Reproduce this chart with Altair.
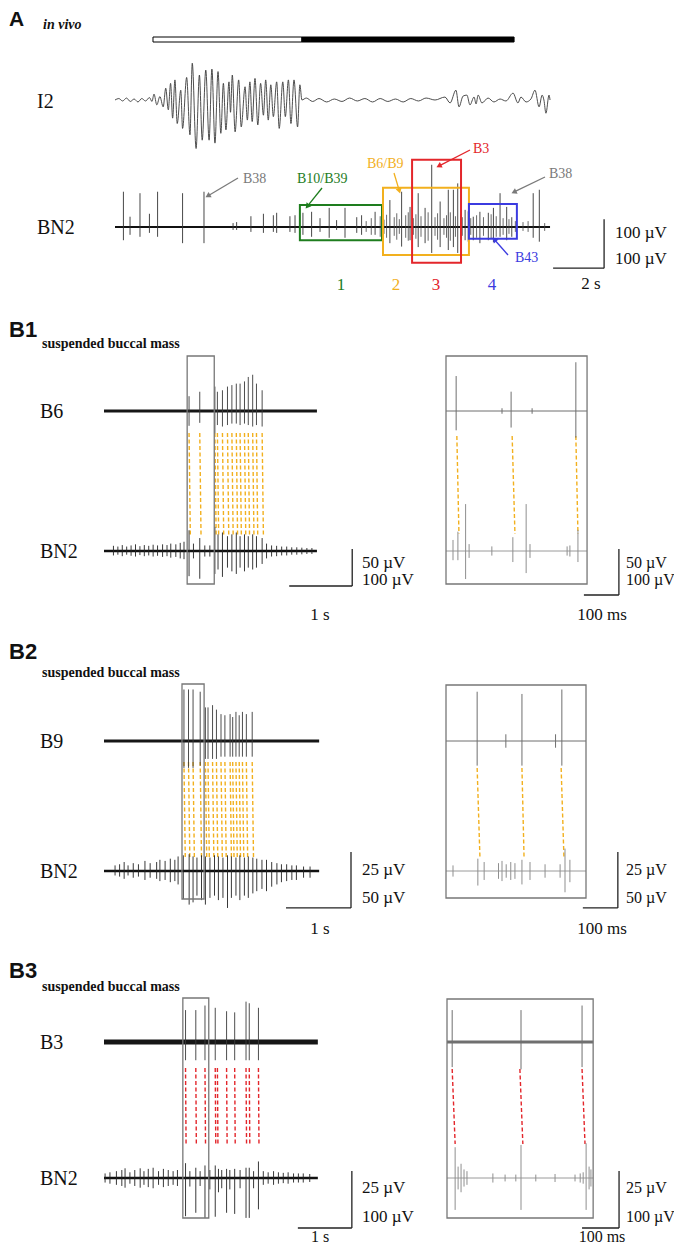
import math
import pandas as pd
import altair as alt

OX, OY = 8, 8          # page margin: chart origin on the page
W, H = 666, 1236

SERIF = "Liberation Serif"
SANS = "Liberation Sans"
ORANGE = "#F2B01E"
RED = "#E3262B"
GREEN = "#1E7D1E"
BLUE = "#3B3BE0"
GREY = "#7A7A7A"

# ------------------------------------------------------------------ data
# ---- A: in vivo
stim_t = [1.49, 7.33, 15.65]            # open bar (protraction) then filled bar (retraction), s
a_trace_end = 17.06                      # s

i2_t = [0.0, 0.15, 0.3, 0.45, 0.6, 0.75, 0.9, 1.05, 1.2, 1.35, 1.45,
        1.53, 1.64, 1.76, 1.89, 1.99, 2.09, 2.18, 2.26, 2.35, 2.44, 2.58, 2.65, 2.81, 2.94,
        3.03, 3.18, 3.31, 3.42, 3.56, 3.69, 3.80, 3.92, 4.04, 4.15, 4.25, 4.35, 4.47, 4.53,
        4.60, 4.71, 4.85, 4.95, 5.10, 5.19, 5.29, 5.38, 5.49, 5.60, 5.71, 5.82, 5.91, 6.01,
        6.11, 6.21, 6.34, 6.44, 6.58, 6.68, 6.80, 6.90, 7.02, 7.16, 7.25, 7.33,
        7.5, 7.75, 8.0, 8.3, 8.6, 8.9, 9.2, 9.5, 9.8, 10.1, 10.4, 10.7, 11.0, 11.3, 11.6,
        11.9, 12.2, 12.55, 12.94, 13.14, 13.37, 13.49, 13.65, 13.80, 13.92, 14.08, 14.16,
        14.24, 14.39, 14.63, 14.86, 15.10, 15.33, 15.61, 15.80, 15.92, 16.12, 16.31, 16.47,
        16.63, 16.75, 16.82, 16.90, 17.02, 17.06]
i2_v = [0, 3, -2, 4, -3, 2, -4, 3, -2, 5, -3,
        12, -10, 7, -14, 24, -20, 34, -37, 41, -48, 20, -58, 46, -71,
        75, -99, 51, -82, 61, -82, 63, -88, 58, -68, 34, -61, 37, -25,
        51, -65, 41, -55, 27, -41, 37, -44, 44, -51, 34, -31, 41, -41,
        31, -34, 37, -58, 37, -34, 41, -48, 41, -55, 31, 0,
        4, -3, 3, -4, 2, -3, 4, -2, 3, -4, 3, -3, 2, -4, 3,
        -2, 4, 0, 6, -6, 20, -14, 8, 10, -10, 6, -8,
        10, -6, 4, -4, 2, -2, 14, -6, 6, -4, 2, 20,
        -14, 10, 0, -27, 10, 0]

a_bn2_t = [0.33, 0.59, 0.98, 1.35, 1.67, 2.65, 3.49, 4.63, 4.77, 5.33,
           5.82, 6.21, 6.34, 6.86, 7.06, 7.37, 7.71, 8.04, 8.40, 8.69,
           9.02, 9.48, 9.67, 10.20, 10.78, 11.24, 11.57, 11.89, 12.16, 12.42,
           12.75, 13.07, 13.27, 13.44, 13.73, 14.05, 14.31, 14.64, 14.84, 15.10,
           15.36, 15.56, 16.40, 16.64]
a_bn2_hi = [72, 21, 69, 27, 72, 69, 72, 8, 10, 22,
            27, 24, 29, 22, 24, 29, 31, 18, 39, 14,
            39, 20, 24, 31, 55, 72, 41, 69, 39, 127,
            52, 76, 76, 89, 35, 21, 31, 29, 39, 69,
            41, 20, 69, 76]
a_bn2_lo = [-27, -16, -20, -12, -20, -33, -33, -6, -6, -10,
            -12, -10, -12, -10, -12, -16, -20, -10, -22, -6,
            -22, -12, -16, -16, -33, -40, -27, -41, -33, -53,
            -41, -47, -41, -53, -27, -27, -33, -27, -31, -20,
            -27, -20, -22, -30]
a_noise_t = [9.85, 10.05, 10.4, 10.55, 10.65, 10.95, 11.05, 11.15, 11.4, 11.5,
             11.7, 11.8, 12.0, 12.28, 12.55, 12.65, 12.9, 13.0, 13.15, 13.35,
             13.55, 13.62, 13.85, 13.95, 14.18, 14.45, 14.75, 14.95, 15.22, 15.45,
             15.7, 16.0, 16.2, 16.85]
a_noise_hi = [12, 18, 22, 15, 25, 20, 28, 16, 24, 30,
              18, 26, 22, 30, 20, 28, 18, 24, 30, 22,
              26, 20, 32, 18, 24, 20, 26, 22, 18, 16,
              12, 10, 12, 8]
a_noise_lo = [-10, -16, -20, -14, -22, -18, -26, -14, -22, -28,
              -16, -24, -20, -28, -18, -26, -16, -22, -28, -20,
              -24, -18, -30, -16, -22, -18, -24, -20, -16, -14,
              -10, -8, -10, -8]
# analysis windows 1-4 (s, µV)
win_name = ["1", "2", "3", "4"]
win_t0 = [7.25, 10.51, 11.65, 13.88]
win_t1 = [10.47, 13.88, 13.57, 15.76]
win_v0 = [-27, -57, -73, -24]
win_v1 = [45, 80, 137, 47]
win_col = [GREEN, ORANGE, RED, BLUE]

# ---- B1: B6 / BN2, suspended buccal mass
b1_end = 3.38
b6_t = [1.35, 1.52, 1.76, 1.80, 1.88, 1.96, 2.03, 2.10, 2.16, 2.23, 2.29, 2.36, 2.42, 2.51]
b6_hi = [20, 26, 33, 26, 28, 33, 35, 37, 37, 40, 46, 49, 37, 28]
b6_lo = [-20, -16, -30, -19, -21, -19, -17, -17, -19, -17, -19, -21, -19, -21]
b1_bn2_t = [0.15, 0.22, 0.29, 0.36, 0.43, 0.50, 0.57, 0.64, 0.71, 0.78, 0.85, 0.93, 1.00,
            1.06, 1.14, 1.21, 1.27,
            1.35, 1.42, 1.52, 1.60, 1.68, 1.76, 1.81, 1.88, 1.96, 2.03, 2.10, 2.16, 2.23,
            2.29, 2.36, 2.42, 2.51,
            2.58, 2.66, 2.74, 2.82, 2.90, 2.98, 3.06, 3.14, 3.22, 3.30]
b1_bn2_hi = [14, 12, 16, 12, 15, 18, 13, 16, 14, 17, 15, 18, 16, 20, 18, 22, 25,
             56, 20, 35, 15, 15, 65, 45, 50, 40, 45, 50, 40, 45, 40, 45, 40, 35,
             20, 15, 14, 12, 12, 10, 10, 9, 8, 8]
b1_bn2_lo = [-12, -10, -14, -10, -13, -15, -11, -14, -12, -15, -13, -16, -14, -18, -16, -20, -22,
             -68, -20, -75, -15, -15, -62, -50, -70, -45, -55, -62, -45, -55, -45, -50, -45, -35,
             -20, -15, -14, -12, -12, -10, -10, -9, -8, -8]
b1_link_top = [1.35, 1.52, 1.76, 1.80, 1.88, 1.96, 2.03, 2.10, 2.16, 2.23, 2.29, 2.36, 2.42, 2.51]
b1_link_bot = [1.37, 1.54, 1.78, 1.82, 1.90, 1.98, 2.05, 2.12, 2.18, 2.25, 2.31, 2.38, 2.44, 2.53]
b1_win = [1.32, 1.75]                    # s, expanded at right
b1z_end = 403                            # ms
b6z_t = [29, 160, 186, 246, 371]
b6z_hi = [38, 3, 21, 3, 53]
b6z_lo = [-21, -3, -18, -3, -29]
b1z_bn2_t = [20, 34, 56, 66, 131, 191, 229, 240, 346, 354, 377]
b1z_bn2_hi = [24, 42, 102, 15, 10, 30, 102, 15, 10, 12, 46]
b1z_bn2_lo = [-20, -20, -61, -15, -10, -24, -48, -15, -10, -12, -24]
b1z_link_top = [31, 189, 371]
b1z_link_bot = [37, 197, 377]

# ---- B2: B9 / BN2
b2_end = 3.31
b9_t = [1.23, 1.30, 1.37, 1.48, 1.56, 1.60, 1.67, 1.73, 1.80, 1.86, 1.94, 1.98, 2.03, 2.08,
        2.13, 2.19, 2.28]
b9_hi = [23, 23, 23, 22, 15, 15, 16, 14, 12, 11.5, 12, 10.7, 13, 11.5, 13, 12, 13]
b9_lo = [-12, -12, -12, -11, -8, -8, -8, -8, -7, -7, -7, -7, -7, -7, -7, -7, -7]
b2_bn2_t = [0.17, 0.24, 0.31, 0.37, 0.45, 0.53, 0.63, 0.71, 0.81, 0.86, 0.94, 1.02, 1.09, 1.14,
            1.22, 1.31, 1.37, 1.43, 1.50, 1.56, 1.63, 1.70, 1.76, 1.83, 1.90, 1.96, 2.03, 2.09,
            2.16, 2.22, 2.29, 2.35, 2.43,
            2.50, 2.58, 2.66, 2.73, 2.81, 2.89, 2.96, 3.07, 3.17]
b2_bn2_hi = [5, 6, 8, 5, 7, 6, 9, 7, 8, 10, 9, 11, 10, 13,
             14, 15, 13, 12, 14, 13, 12, 14, 13, 12, 14, 13, 12, 14, 12, 13, 12, 11, 10,
             10, 8, 7, 6, 6, 5, 5, 4, 4]
b2_bn2_lo = [-4, -5, -7, -4, -6, -5, -8, -6, -7, -9, -8, -10, -9, -12,
             -25, -30, -28, -22, -26, -30, -24, -22, -26, -24, -33, -24, -22, -26, -22, -24,
             -20, -18, -16,
             -18, -14, -12, -10, -9, -8, -8, -6, -6]
b2_link_top = [1.23, 1.30, 1.37, 1.48, 1.56, 1.60, 1.67, 1.73, 1.80, 1.86, 1.94, 1.98, 2.03,
               2.08, 2.13, 2.19, 2.28]
b2_link_bot = [1.25, 1.32, 1.39, 1.50, 1.58, 1.62, 1.69, 1.75, 1.82, 1.88, 1.96, 2.00, 2.05,
               2.10, 2.15, 2.21, 2.30]
b2_win = [1.20, 1.54]
b2z_end = 400
b9z_t = [89, 171, 217, 313, 331]
b9z_hi = [22, 3, 21, 3, 23]
b9z_lo = [-11, -3, -11, -3, -11]
b2z_bn2_t = [20, 91, 109, 150, 160, 172, 185, 197, 217, 240, 283, 326, 340, 354]
b2z_bn2_hi = [5, 11, 8, 7, 9, 6, 8, 7, 10, 8, 6, 6, 20, 10]
b2z_bn2_lo = [-5, -13, -8, -7, -9, -6, -8, -7, -12, -8, -6, -6, -19, -10]
b2z_link_top = [89, 217, 329]
b2z_link_bot = [97, 223, 337]

# ---- B3: B3 / BN2
b3_end = 3.96
b3_t = [1.51, 1.70, 1.87, 2.06, 2.27, 2.42, 2.63, 2.69, 2.86]
b3_hi = [14, 14, 16, 15, 13.5, 13, 17.7, 17, 15]
b3_lo = [-8, -8, -8, -8, -8, -8, -8, -8, -8]
b3_bn2_t = [0.02, 0.11, 0.23, 0.33, 0.39, 0.48, 0.57, 0.67, 0.74, 0.82, 0.91, 1.01, 1.10, 1.19,
            1.28, 1.36,
            1.51, 1.59, 1.70, 1.78, 1.87, 1.96, 2.06, 2.12, 2.18, 2.27, 2.33, 2.42, 2.52, 2.63,
            2.69, 2.77, 2.86,
            2.95, 3.04, 3.14, 3.23, 3.32, 3.41, 3.51, 3.60, 3.69, 3.81]
b3_bn2_hi = [8, 10, 12, 14, 17, 10, 14, 17, 12, 16, 18, 12, 16, 14, 12, 14,
             26, 12, 18, 12, 22, 14, 22, 16, 14, 16, 14, 16, 14, 18, 18, 12, 29,
             12, 10, 12, 10, 9, 10, 8, 8, 8, 7]
b3_bn2_lo = [-8, -10, -12, -14, -17, -10, -14, -17, -12, -16, -18, -12, -16, -14, -12, -14,
             -67, -15, -61, -14, -70, -20, -68, -25, -18, -61, -20, -63, -18, -70, -70, -18, -55,
             -12, -10, -12, -10, -9, -10, -8, -8, -8, -7]
b3_link_top = [1.51, 1.70, 1.87, 2.06, 2.10, 2.27, 2.42, 2.63, 2.69, 2.86]
b3_link_bot = [1.52, 1.71, 1.88, 2.07, 2.11, 2.28, 2.43, 2.64, 2.70, 2.87]
b3_win = [1.46, 1.94]
b3z_end = 395
b3z_t = [14, 200, 365]
b3z_hi = [14, 14, 16]
b3z_lo = [-11, -12, -11]
b3z_bn2_t = [22, 30, 38, 46, 54, 124, 157, 186, 200, 240, 292, 346, 360, 368, 376, 384, 389]
b3z_bn2_hi = [54, 20, 25, 15, 12, 8, 6, 6, 58, 6, 7, 6, 8, 10, 61, 20, 15]
b3z_bn2_lo = [-56, -20, -25, -15, -12, -8, -6, -6, -56, -6, -7, -6, -8, -10, -56, -20, -15]
b3z_link_top = [14, 197, 365]
b3z_link_bot = [22, 205, 373]


# ------------------------------------------------------------------ helpers
def tscale(x0, ppu, lo, hi):
    """time scale: value 0 sits at page x0, ppu pixels per unit"""
    return alt.Scale(domain=[lo, hi], range=[x0 + lo * ppu - OX, x0 + hi * ppu - OX],
                     nice=False, zero=False)


def vscale(base, ppu, lo=-200, hi=200):
    """voltage scale: 0 µV sits at page y=base, ppu pixels per µV"""
    return alt.Scale(domain=[lo, hi], range=[base - lo * ppu - OY, base - hi * ppu - OY],
                     nice=False, zero=False)


def baseline(t0, t1, xs, ys, color, w):
    df = pd.DataFrame({"t0": [t0], "t1": [t1], "v": [0]})
    return alt.Chart(df).mark_rule(color=color, strokeWidth=w).encode(
        x=alt.X("t0:Q", scale=xs, axis=None), x2="t1:Q",
        y=alt.Y("v:Q", scale=ys, axis=None))


def spikes(t, hi, lo, xs, ys, color, w=0.9):
    df = pd.DataFrame({"t": t, "hi": hi, "lo": lo})
    return alt.Chart(df).mark_rule(color=color, strokeWidth=w).encode(
        x=alt.X("t:Q", scale=xs, axis=None),
        y=alt.Y("hi:Q", scale=ys, axis=None), y2="lo:Q")


def links(top, bot, ytop, ybot, xs, color):
    df = pd.DataFrame({"a": top, "b": bot})
    return alt.Chart(df).mark_rule(color=color, strokeWidth=1.4, strokeDash=[4, 2.5]).encode(
        x=alt.X("a:Q", scale=xs, axis=None), x2="b:Q",
        y=alt.value(ytop - OY), y2=alt.value(ybot - OY))


def frame(t0, t1, ytop, ybot, xs, color="#777777", w=1.3):
    df = pd.DataFrame({"t0": [t0], "t1": [t1]})
    return alt.Chart(df).mark_rect(fillOpacity=0, stroke=color, strokeWidth=w).encode(
        x=alt.X("t0:Q", scale=xs, axis=None), x2="t1:Q",
        y=alt.value(ytop - OY), y2=alt.value(ybot - OY))


def scalebar(t0, dur, v0, vdur, xs, ys):
    df = pd.DataFrame({"a": [t0, t0 + dur], "b": [t0 + dur, t0 + dur],
                       "u": [v0, v0], "w": [v0, v0 + vdur]})
    return alt.Chart(df).mark_rule(color="#222222", strokeWidth=1.3).encode(
        x=alt.X("a:Q", scale=xs, axis=None), x2="b:Q",
        y=alt.Y("u:Q", scale=ys, axis=None), y2="w:Q")


def texts(rows, size, color="#111111", font=SERIF, weight="normal", style="normal",
          align="left"):
    df = pd.DataFrame(rows, columns=["x", "y", "s"])
    df["x"] = df["x"] - OX
    df["y"] = df["y"] - OY
    return alt.Chart(df).mark_text(align=align, baseline="alphabetic", font=font,
                                   fontSize=size, fontWeight=weight, fontStyle=style,
                                   color=color).encode(
        x=alt.X("x:Q", scale=None), y=alt.Y("y:Q", scale=None), text="s:N")


def arrow(x1, y1, x2, y2, color):
    ang = math.degrees(math.atan2(x2 - x1, -(y2 - y1))) % 360
    L = math.hypot(x2 - x1, y2 - y1)
    hx, hy = x2 - (x2 - x1) / L * 3, y2 - (y2 - y1) / L * 3
    line = alt.Chart(pd.DataFrame({"a": [0]})).mark_rule(color=color, strokeWidth=1.3).encode(
        x=alt.value(x1 - OX), y=alt.value(y1 - OY), x2=alt.value(hx - OX), y2=alt.value(hy - OY))
    head = alt.Chart(pd.DataFrame({"x": [hx - OX], "y": [hy - OY], "ang": [ang]})).mark_point(
        shape="triangle", filled=True, size=38, color=color, opacity=1).encode(
        x=alt.X("x:Q", scale=None), y=alt.Y("y:Q", scale=None),
        angle=alt.Angle("ang:Q", scale=None))
    return [line, head]


layers = []

# ------------------------------------------------------------------ panel A
xa = tscale(115, 25.5, 0, 20)
y_i2 = vscale(100, 0.49)
y_abn2 = vscale(227, 0.49)

stim = pd.DataFrame({"t0": stim_t[:-1], "t1": stim_t[1:], "fill": ["#ffffff", "#000000"]})
layers.append(alt.Chart(stim).mark_rect(stroke="#000000", strokeWidth=1).encode(
    x=alt.X("t0:Q", scale=xa, axis=None), x2="t1:Q",
    y=alt.value(37 - OY), y2=alt.value(42 - OY),
    fill=alt.Fill("fill:N", scale=None)))

layers.append(alt.Chart(pd.DataFrame({"t": i2_t, "v": i2_v})).mark_line(
    color="#3a3a3a", strokeWidth=0.9, interpolate="monotone").encode(
    x=alt.X("t:Q", scale=xa, axis=None), y=alt.Y("v:Q", scale=y_i2, axis=None),
    order="t:Q"))

layers.append(baseline(0, a_trace_end, xa, y_abn2, "#111111", 2.2))
layers.append(spikes(a_noise_t, a_noise_hi, a_noise_lo, xa, y_abn2, "#444444", 0.8))
layers.append(spikes(a_bn2_t, a_bn2_hi, a_bn2_lo, xa, y_abn2, "#333333", 0.9))

wins = pd.DataFrame({"t0": win_t0, "t1": win_t1, "v0": win_v0, "v1": win_v1, "c": win_col})
layers.append(alt.Chart(wins).mark_rect(fillOpacity=0, strokeWidth=2).encode(
    x=alt.X("t0:Q", scale=xa, axis=None), x2="t1:Q",
    y=alt.Y("v0:Q", scale=y_abn2, axis=None), y2="v1:Q",
    stroke=alt.Stroke("c:N", scale=None)))

layers.append(scalebar(17.18, 2, -84, 100, xa, y_abn2))

layers.append(texts([(9, 26, "A")], 21, font=SANS, weight="bold"))
layers.append(texts([(43, 29, "in vivo")], 14, weight="bold", style="italic"))
layers.append(texts([(37, 108, "I2"), (37, 234, "BN2")], 20))
layers.append(texts([(243, 183, "B38"), (549, 178, "B38")], 14, color=GREY))
layers.append(texts([(297, 183, "B10/B39")], 14, color=GREEN))
layers.append(texts([(367, 168, "B6/B9")], 14, color=ORANGE))
layers.append(texts([(473, 153, "B3")], 14, color=RED))
layers.append(texts([(515, 262, "B43")], 14, color=BLUE))
for name, cx, col in zip(win_name, [341, 396, 436, 492], win_col):
    layers.append(texts([(cx, 290, name)], 17, color=col, align="center"))
layers += arrow(238, 178, 206, 197, GREY)
layers += arrow(322, 188, 306, 208, GREEN)
layers += arrow(394, 173, 400, 193, ORANGE)
layers += arrow(470, 150, 437, 167, RED)
layers += arrow(545, 177, 512, 193, GREY)
layers += arrow(508, 255, 493, 238, BLUE)
layers.append(texts([(615, 238, "100 µV"), (615, 264, "100 µV")], 17))
layers.append(texts([(591, 289, "2 s")], 17, align="center"))


# ------------------------------------------------------------------ panels B
def bpanel(lab, top_name, ytop, ybot, label_y, sub_y, left, right, bars, lbls):
    (xl, ppl, end, tt, th, tl, top_gain, top_w, bt, bh, bl, bot_gain, lt, lb, ly0, ly1, lcol,
     win, wy0, wy1) = left
    (xr, ppr, zend, ztt, zth, ztl, zt_gain, zt_w, zbt, zbh, zbl, zb_gain, zlt, zlb,
     zly0, zly1, zwy0, zwy1) = right
    out = []
    xsl = tscale(xl, ppl, 0, 6)
    yst = vscale(ytop, top_gain)
    ysb = vscale(ybot, bot_gain)
    out.append(links(lt, lb, ly0, ly1, xsl, lcol))
    out.append(baseline(0, end, xsl, yst, "#161616", top_w))
    out.append(spikes(tt, th, tl, xsl, yst, "#3a3a3a", 0.9))
    out.append(baseline(0, end, xsl, ysb, "#111111", 2.4))
    out.append(spikes(bt, bh, bl, xsl, ysb, "#222222", 0.9))
    out.append(frame(win[0], win[1], wy0, wy1, xsl))
    xsr = tscale(xr, ppr, 0, 600)
    yzt = vscale(ytop, zt_gain)
    yzb = vscale(ybot, zb_gain)
    out.append(links(zlt, zlb, zly0, zly1, xsr, lcol))
    out.append(baseline(0, zend, xsr, yzt, "#6f6f6f", zt_w))
    out.append(spikes(ztt, zth, ztl, xsr, yzt, "#6f6f6f", 1.0))
    out.append(baseline(0, zend, xsr, yzb, "#9a9a9a", 1.0))
    out.append(spikes(zbt, zbh, zbl, xsr, yzb, "#8f8f8f", 1.0))
    out.append(frame(0, zend, zwy0, zwy1, xsr))
    # scale bars
    (sl_t0, sl_v0, sl_vd), (sr_t0, sr_v0, sr_vd) = bars
    out.append(scalebar(sl_t0, 1.0, sl_v0, sl_vd, xsl, ysb))
    out.append(scalebar(sr_t0, 100, sr_v0, sr_vd, xsr, yzb))
    # text
    out.append(texts([(9, label_y, lab)], 22, font=SANS, weight="bold"))
    out.append(texts([(42, sub_y, "suspended buccal mass")], 14, weight="bold"))
    out.append(texts([(40, ytop + 7, top_name), (40, ybot + 7, "BN2")], 20))
    (v1, v2, yv1, yv2, ysec, ssz) = lbls
    out.append(texts([(362, yv1, v1), (362, yv2, v2)], 17))
    out.append(texts([(626, yv1, v1), (626, yv2, v2)], 16))
    out.append(texts([(320, ysec, "1 s"), (602, ysec, "100 ms")], ssz, align="center"))
    return out


layers += bpanel(
    "B1", "B6", 411, 551, 337, 348,
    (104, 63, b1_end, b6_t, b6_hi, b6_lo, 0.74, 3.0, b1_bn2_t, b1_bn2_hi, b1_bn2_lo, 0.37,
     b1_link_top, b1_link_bot, 433, 535, ORANGE, b1_win, 356, 584),
    (446, 0.35, b1z_end, b6z_t, b6z_hi, b6z_lo, 0.92, 1.0, b1z_bn2_t, b1z_bn2_hi, b1z_bn2_lo,
     0.46, b1z_link_top, b1z_link_bot, 436, 534, 356, 584),
    ((2.94, -94.6, 100), (394, -95.7, 100)),
    ("50 µV", "100 µV", 568, 585, 620, 17))

layers += bpanel(
    "B2", "B9", 741, 871, 659, 677,
    (104, 65, b2_end, b9_t, b9_hi, b9_lo, 2.24, 3.0, b2_bn2_t, b2_bn2_hi, b2_bn2_lo, 1.12,
     b2_link_top, b2_link_bot, 762, 857, ORANGE, b2_win, 684, 899),
    (446, 0.35, b2z_end, b9z_t, b9z_hi, b9z_lo, 2.24, 1.0, b2z_bn2_t, b2z_bn2_hi, b2z_bn2_lo,
     1.12, b2z_link_top, b2z_link_bot, 768, 858, 685, 898),
    ((2.80, -33, 50), (391, -33, 50)),
    ("25 µV", "50 µV", 875, 903, 934, 17))

layers += bpanel(
    "B3", "B3", 1042, 1178, 978, 991,
    (104, 54, b3_end, b3_t, b3_hi, b3_lo, 2.28, 5.0, b3_bn2_t, b3_bn2_hi, b3_bn2_lo, 0.57,
     b3_link_top, b3_link_bot, 1068, 1145, RED, b3_win, 998, 1218),
    (447, 0.37, b3z_end, b3z_t, b3z_hi, b3z_lo, 2.28, 3.0, b3z_bn2_t, b3z_bn2_hi, b3z_bn2_lo,
     0.57, b3z_link_top, b3z_link_bot, 1069, 1144, 999, 1218),
    ((3.59, -87.7, 100), (365, -87.7, 100)),
    ("25 µV", "100 µV", 1193, 1222, 1242, 16))

chart = alt.layer(*layers).resolve_scale(x="independent", y="independent").properties(
    width=W, height=H, padding=0, autosize=alt.AutoSizeParams(type="none"),
    background="#ffffff").configure_view(strokeWidth=0)

chart.save("out.html", embed_options={"renderer": "svg", "actions": False})
